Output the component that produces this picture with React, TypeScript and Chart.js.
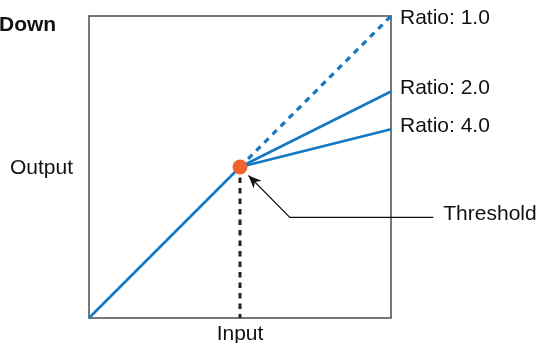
import React, { useEffect, useRef } from "react";
import { Chart, registerables } from "chart.js";

Chart.register(...registerables);

// Transfer curve values (normalised input / output levels)
const threshold = 0.5;
const inputStart = 0;
const inputEnd = 1;
const ratioLabels = ["Ratio: 1.0", "Ratio: 2.0", "Ratio: 4.0"];
const ratioOutputsAtMax = [1.0, 0.75, 0.625];
// Callout for the threshold label (data units)
const calloutX = [1.14, 0.665, 0.528];
const calloutY = [0.333, 0.333, 0.472];
const titleText = "Down";
const xTitle = "Input";
const yTitle = "Output";
const calloutLabel = "Threshold";

const BLUE = "#1479c4";
const ORANGE = "#f0622d";
const FONT = "'Liberation Sans', Arial, Helvetica, sans-serif";

export default function App() {
  const ref = useRef<HTMLCanvasElement | null>(null);

  useEffect(() => {
    if (!ref.current) return;

    const labelsPlugin = {
      id: "labels",
      beforeDatasetsDraw(chart: any) {
        const { ctx, chartArea } = chart;
        ctx.save();
        ctx.strokeStyle = "#555";
        ctx.lineWidth = 1.6;
        ctx.strokeRect(chartArea.left, chartArea.top, chartArea.right - chartArea.left, chartArea.bottom - chartArea.top);
        ctx.restore();
      },
      afterDatasetsDraw(chart: any) {
        const { ctx, chartArea, scales } = chart;
        const xs = scales.x;
        const ys = scales.y;
        ctx.save();
        ctx.fillStyle = "#111";
        ctx.font = `21px ${FONT}`;
        ctx.textBaseline = "middle";
        ctx.textAlign = "left";
        ratioLabels.forEach((lbl, i) => {
          const py = ys.getPixelForValue(ratioOutputsAtMax[i]);
          const adj = i === 0 ? 2 : -3;
          ctx.fillText(lbl, chartArea.right + 9, py + adj);
        });
        // Threshold label
        const lx = xs.getPixelForValue(calloutX[0]);
        const ly = ys.getPixelForValue(calloutY[0]);
        ctx.fillText(calloutLabel, lx + 10, ly - 3);
        // Axis titles
        ctx.textAlign = "center";
        ctx.fillText(xTitle, xs.getPixelForValue(threshold), chartArea.bottom + 16);
        ctx.textAlign = "left";
        ctx.fillText(yTitle, 10, ys.getPixelForValue(threshold) + 1);
        ctx.font = `bold 21px ${FONT}`;
        ctx.fillText(titleText, -1, 25);
        // Arrow head
        const n = calloutX.length;
        const tx = xs.getPixelForValue(calloutX[n - 1]);
        const ty = ys.getPixelForValue(calloutY[n - 1]);
        const fx = xs.getPixelForValue(calloutX[n - 2]);
        const fy = ys.getPixelForValue(calloutY[n - 2]);
        const ang = Math.atan2(ty - fy, tx - fx);
        const len = 13;
        const wid = 5.5;
        ctx.fillStyle = "#111";
        ctx.beginPath();
        ctx.moveTo(tx, ty);
        ctx.lineTo(
          tx - len * Math.cos(ang) + wid * Math.sin(ang),
          ty - len * Math.sin(ang) - wid * Math.cos(ang)
        );
        ctx.lineTo(tx - 0.7 * len * Math.cos(ang), ty - 0.7 * len * Math.sin(ang));
        ctx.lineTo(
          tx - len * Math.cos(ang) - wid * Math.sin(ang),
          ty - len * Math.sin(ang) + wid * Math.cos(ang)
        );
        ctx.closePath();
        ctx.fill();
        ctx.restore();
      },
    };

    const line = (data: { x: number; y: number }[], extra: any) => ({
      data,
      showLine: true,
      pointRadius: 0,
      pointHoverRadius: 0,
      fill: false,
      clip: false,
      borderColor: BLUE,
      borderWidth: 2.6,
      borderCapStyle: "butt",
      ...extra,
    });

    const chart = new Chart(ref.current, {
      type: "scatter",
      data: {
        datasets: [
          {
            data: [{ x: threshold, y: threshold }],
            pointRadius: 7.5,
            pointBackgroundColor: ORANGE,
            pointBorderColor: ORANGE,
            pointBorderWidth: 0,
            clip: false,
          } as any,
          line([{ x: inputStart, y: inputStart }, { x: threshold, y: threshold }], {}),
          line([{ x: threshold, y: threshold }, { x: inputEnd, y: ratioOutputsAtMax[0] }], {
            borderDash: [6, 5.5],
            borderWidth: 3.2,
          }),
          line([{ x: threshold, y: threshold }, { x: inputEnd, y: ratioOutputsAtMax[1] }], {}),
          line([{ x: threshold, y: threshold }, { x: inputEnd, y: ratioOutputsAtMax[2] }], {}),
          line([{ x: threshold, y: threshold }, { x: threshold, y: inputStart }], {
            borderColor: "#222",
            borderWidth: 3,
            borderDash: [5.5, 5],
          }),
          line(
            calloutX.map((x, i) => ({ x, y: calloutY[i] })),
            { borderColor: "#111", borderWidth: 1.2 }
          ),
        ],
      },
      options: {
        animation: false,
        responsive: false,
        maintainAspectRatio: false,
        layout: { padding: { left: 89, right: 146, top: 16, bottom: 25 } },
        plugins: { legend: { display: false }, tooltip: { enabled: false }, title: { display: false } },
        scales: {
          x: { type: "linear", min: 0, max: 1, display: false },
          y: { type: "linear", min: 0, max: 1, display: false },
        },
        events: [],
      },
      plugins: [labelsPlugin],
    } as any);

    return () => chart.destroy();
  }, []);

  return (
    <div style={{ position: "fixed", left: 0, top: 0, width: 537, height: 343, background: "#fff" }}>
      <canvas ref={ref} width={537} height={343} style={{ width: 537, height: 343, display: "block" }} />
    </div>
  );
}
